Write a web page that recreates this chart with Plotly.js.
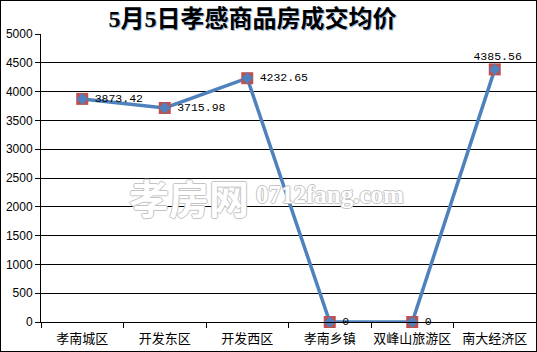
<!DOCTYPE html>
<html>
<head>
<meta charset="utf-8">
<script src="https://cdn.plot.ly/plotly-3.0.1.min.js"></script>
<style>
html,body{margin:0;padding:0;background:#fff;}
#wrap{position:relative;width:537px;height:352px;}
#chart{position:absolute;left:0;top:0;width:537px;height:352px;}
#frame{position:absolute;left:0;top:0;width:535px;height:350px;border:1px solid #000;pointer-events:none;}
</style>
</head>
<body>
<div id="wrap"><div id="chart"></div><div id="frame"></div></div>
<script>
// Data
const categories = ['孝南城区','开发东区','开发西区','孝南乡镇','双峰山旅游区','南大经济区'];
const prices = [3873.42, 3715.98, 4232.65, 0, 0, 4385.56];
const labelPositions = ['middle right','middle right','middle right','middle right','middle right','top center'];
const yTicks = [0,500,1000,1500,2000,2500,3000,3500,4000,4500,5000];
const titleText = '5月5日孝感商品房成交均价';
const watermarkCn = '孝房网';
const watermarkEn = '0712fang.com';

const blue = '#4F81BD';
const red = '#C0504D';

const traces = [
  {
    x: categories, y: prices, type: 'scatter', mode: 'lines',
    line: {color: blue, width: 3.5}, hoverinfo: 'skip', cliponaxis: false
  },
  {
    x: categories, y: prices, type: 'scatter', mode: 'markers',
    marker: {symbol: 'square', size: 12, color: red, line: {width: 0}},
    hoverinfo: 'skip', cliponaxis: false
  },
  {
    x: categories, y: prices, type: 'scatter', mode: 'markers+text',
    marker: {symbol: 'diamond', size: 9, color: blue, line: {width: 0}},
    text: prices.map(v => '\u2002' + String(v)),
    textposition: labelPositions,
    textfont: {family: '"Liberation Mono", "DejaVu Sans Mono", monospace', size: 11.5, color: '#000'},
    cliponaxis: false
  }
];

const wmShadow = '-1px 0 #c4c4c4, 1px 0 #c4c4c4, 0 -1px #c4c4c4, 0 1px #c4c4c4';

const layout = {
  width: 537, height: 352,
  margin: {l: 41, r: 1, t: 34, b: 30, pad: 0, autoexpand: false},
  paper_bgcolor: '#fff', plot_bgcolor: '#fff',
  showlegend: false,
  title: {
    text: titleText,
    x: 252.5/537, xref: 'container', xanchor: 'center',
    y: 1 - 19/352, yref: 'container', yanchor: 'middle',
    font: {family: '"Liberation Serif", "Noto Sans CJK SC", serif', size: 24, color: '#000', weight: 'bold',
           shadow: '1px 1px 0 rgba(79,129,189,0.55)'}
  },
  xaxis: {
    type: 'category',
    range: [-0.5, categories.length - 0.5],
    automargin: false,
    tickangle: 0,
    ticklabelstandoff: 4,
    showgrid: false, zeroline: false,
    showline: true, linecolor: '#000', linewidth: 1,
    ticks: 'outside', tickson: 'boundaries', ticklen: 5, tickcolor: '#000', tickwidth: 1,
    tickfont: {family: '"Noto Sans CJK SC", sans-serif', size: 13, color: '#000'},
    fixedrange: true
  },
  yaxis: {
    range: [0, 5000],
    automargin: false,
    tickvals: yTicks, ticktext: yTicks.map(String),
    showgrid: true, gridcolor: '#000', gridwidth: 1,
    zeroline: false,
    showline: true, linecolor: '#000', linewidth: 1,
    ticks: 'outside', ticklen: 5, tickcolor: '#000', tickwidth: 1,
    tickfont: {family: '"Liberation Sans", Arial, sans-serif', size: 12, color: '#000'},
    fixedrange: true
  },
  annotations: [
    {
      text: watermarkCn, xref: 'paper', yref: 'paper',
      x: (188.5-41)/495, y: (322-196.5)/288, xanchor: 'center', yanchor: 'middle',
      showarrow: false,
      font: {family: '"Noto Sans CJK SC", sans-serif', size: 40, color: '#fff', weight: 'bold', shadow: wmShadow}
    },
    {
      text: watermarkEn, xref: 'paper', yref: 'paper',
      x: (330-41)/495, y: (322-194)/288, xanchor: 'center', yanchor: 'middle',
      showarrow: false,
      font: {family: '"Liberation Serif", serif', size: 25, color: '#fff', weight: 'bold', shadow: wmShadow}
    }
  ]
};

Plotly.newPlot('chart', traces, layout, {staticPlot: true, displayModeBar: false});
</script>
</body>
</html>
